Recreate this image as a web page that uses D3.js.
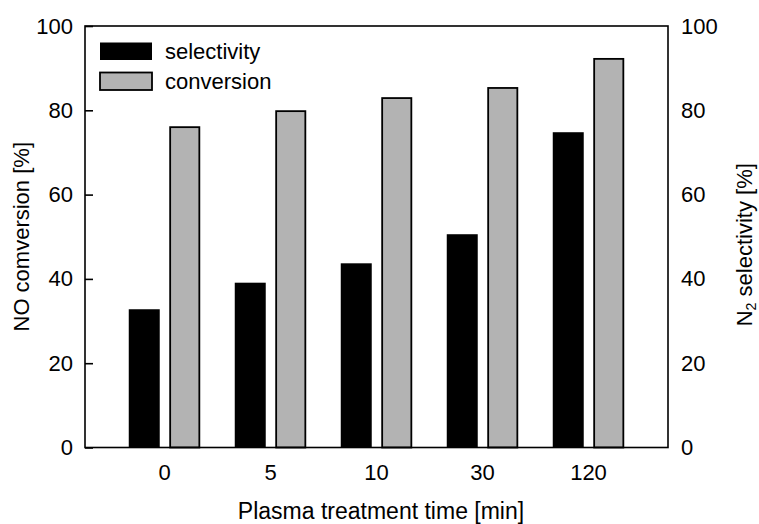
<!DOCTYPE html>
<html>
<head>
<meta charset="utf-8">
<script src="https://cdn.jsdelivr.net/npm/d3@7"></script>
<style>
  html, body { margin: 0; padding: 0; background: #fff; }
  svg { display: block; font-family: "Liberation Sans", Arial, sans-serif; }
</style>
</head>
<body>
<svg id="chart" width="759" height="524"></svg>
<script>
const categories = ["0", "5", "10", "30", "120"];
const seriesNames = ["selectivity", "conversion"];
const selectivity = [32.8, 39.1, 43.7, 50.6, 74.8];
const conversion = [76.0, 79.8, 82.9, 85.3, 92.2];
const yTicks = [0, 20, 40, 60, 80, 100];

const svg = d3.select("#chart");
const L = 85, R = 668, T = 26, B = 447.5;
const FS = 22;

const x = d3.scaleBand().domain(categories).range([L, R]).paddingInner(0).paddingOuter(0.25);
const xs = d3.scaleBand().domain(seriesNames).range([0, x.bandwidth()]).paddingInner(0.235).paddingOuter(0.426);
const y = d3.scaleLinear().domain([0, 100]).range([B, T]);

const data = categories.map((c, i) => ({ cat: c, selectivity: selectivity[i], conversion: conversion[i] }));

// bars
const g = svg.append("g");
g.selectAll("rect.sel").data(data).join("rect")
  .attr("class", "sel")
  .attr("x", d => x(d.cat) + xs("selectivity"))
  .attr("width", xs.bandwidth())
  .attr("y", d => y(d.selectivity))
  .attr("height", d => y(0) - y(d.selectivity))
  .attr("fill", "#000");
g.selectAll("rect.conv").data(data).join("rect")
  .attr("class", "conv")
  .attr("x", d => x(d.cat) + xs("conversion") + 0.9)
  .attr("width", xs.bandwidth() - 1.8)
  .attr("y", d => y(d.conversion))
  .attr("height", d => y(0) - y(d.conversion))
  .attr("fill", "#b3b3b3")
  .attr("stroke", "#000")
  .attr("stroke-width", 1.8);

// frame
svg.append("rect").attr("x", L).attr("y", T).attr("width", R - L).attr("height", B - T)
  .attr("fill", "none").attr("stroke", "#000").attr("stroke-width", 1.6);

// left axis
const la = svg.append("g").attr("transform", `translate(${L},0)`)
  .call(d3.axisLeft(y).tickValues(yTicks).tickSizeInner(-8).tickSizeOuter(0).tickPadding(12));
la.select(".domain").remove();
la.selectAll("line").attr("stroke", "#000").attr("stroke-width", 1.6);
la.selectAll("text").attr("font-size", FS).attr("fill", "#000").attr("font-family", "Liberation Sans, Arial, sans-serif");

// right axis
const ra = svg.append("g").attr("transform", `translate(${R},0)`)
  .call(d3.axisRight(y).tickValues(yTicks).tickSize(0).tickPadding(13));
ra.select(".domain").remove();
ra.selectAll("text").attr("font-size", FS).attr("fill", "#000").attr("font-family", "Liberation Sans, Arial, sans-serif");

// bottom axis
const ba = svg.append("g").attr("transform", `translate(0,${B})`)
  .call(d3.axisBottom(x).tickSize(0).tickPadding(17));
ba.select(".domain").remove();
ba.selectAll("text").attr("font-size", FS).attr("fill", "#000").attr("font-family", "Liberation Sans, Arial, sans-serif");

// axis titles
svg.append("text").attr("x", 381).attr("y", 519).attr("text-anchor", "middle")
  .attr("font-size", 23).text("Plasma treatment time [min]");
svg.append("text").attr("transform", `translate(29,${(T + B) / 2}) rotate(-90)`)
  .attr("text-anchor", "middle").attr("font-size", FS).text("NO comversion [%]");
const rt = svg.append("text").attr("transform", `translate(752,${(T + B) / 2 + 8}) rotate(-90)`)
  .attr("text-anchor", "middle").attr("font-size", FS);
rt.append("tspan").text("N");
rt.append("tspan").attr("baseline-shift", "-30%").attr("font-size", FS * 0.65).text("2");
rt.append("tspan").text(" selectivity [%]");

// legend
const legend = svg.append("g");
const legendItems = [
  { name: "selectivity", fill: "#000", stroke: "none" },
  { name: "conversion", fill: "#b3b3b3", stroke: "#000" }
];
legendItems.forEach((it, i) => {
  const yy = 42.5 + i * 30;
  legend.append("rect").attr("x", 100).attr("y", yy).attr("width", 52).attr("height", 17.5)
    .attr("fill", it.fill).attr("stroke", it.stroke).attr("stroke-width", 1.8);
  legend.append("text").attr("x", 165).attr("y", yy + 16).attr("font-size", FS).text(it.name);
});
</script>
</body>
</html>
